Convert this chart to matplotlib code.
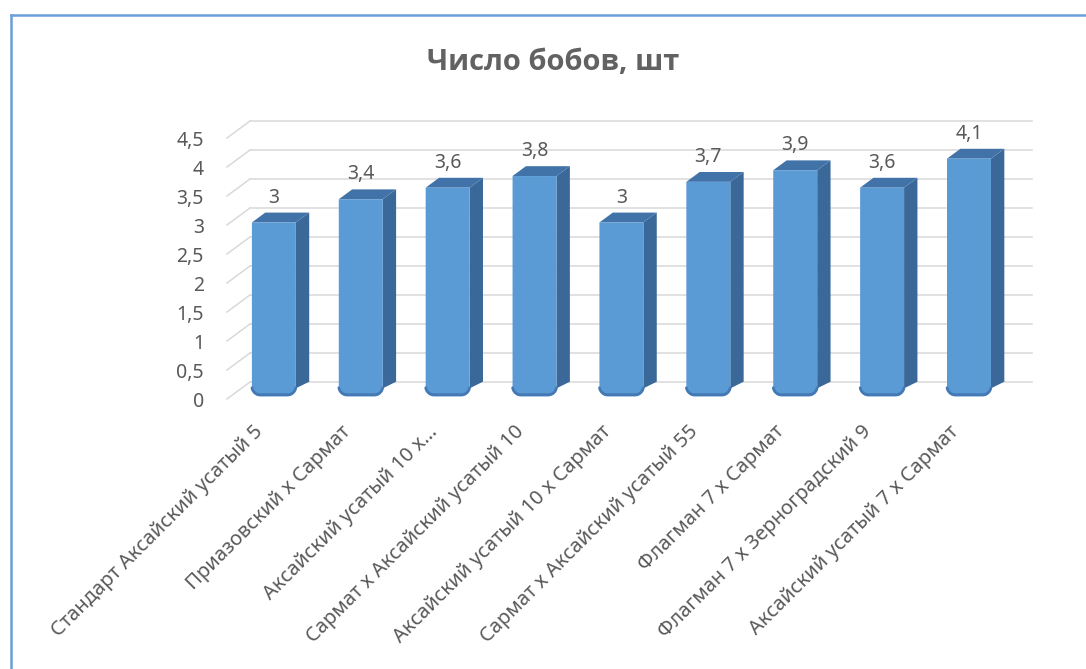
# -*- coding: utf-8 -*-
"""Число бобов по сортам и гибридам: столбчатая диаграмма с псевдо-3D столбцами."""

import matplotlib

matplotlib.use("Agg")
import matplotlib.pyplot as plt
import numpy as np
from matplotlib.lines import Line2D
from matplotlib.patches import Polygon

plt.rcParams["font.family"] = ["Noto Sans", "DejaVu Sans"]

varieties = [
    "Стандарт Аксайский усатый 5",
    "Приазовский х Сармат",
    "Аксайский усатый 10 х…",
    "Сармат х Аксайский усатый 10",
    "Аксайский усатый 10 х Сармат",
    "Сармат х Аксайский усатый 55",
    "Флагман 7 х Сармат",
    "Флагман 7 х Зерноградский 9",
    "Аксайский усатый 7 х Сармат",
]
beans = [3.0, 3.4, 3.6, 3.8, 3.0, 3.7, 3.9, 3.6, 4.1]
y_ticks = [0, 0.5, 1, 1.5, 2, 2.5, 3, 3.5, 4, 4.5]
title = "Число бобов, шт"

TEXT = "#595959"
GRID = "#d9d9d9"
FRONT = "#5B9BD5"
SIDE = "#3A6899"
TOP = "#4172A8"
RIM = "#4479B3"

# oblique projection: depth 0 is the back wall, depth 1 is the front edge
DX, DY = -0.265, -0.293
S_FRONT, S_BACK = 0.85, 0.27
HALF_W = 0.253
RX, RY = 0.095, 0.14


def proj(x, y, s):
    return x + s * DX, y + s * DY


def fmt(v):
    return f"{v:g}".replace(".", ",")


fig = plt.figure(figsize=(10.86, 6.69), dpi=100)
fig.patch.set_facecolor("white")
ax = fig.add_axes([250 / 1086, 1 - 382 / 669, 782 / 1086, 261 / 669])
ax.set_xlim(0, len(varieties))
ax.set_ylim(0, 4.5)
ax.axis("off")

# back wall gridlines and the slanted side lines with value labels
for t in y_ticks:
    ax.plot([0, len(varieties)], [t, t], color=GRID, lw=1.1, zorder=1, clip_on=False)
    fx, fy = proj(0, t, 1)
    ax.plot([0, fx], [t, fy], color=GRID, lw=1.1, zorder=1, clip_on=False)
    ax.annotate(fmt(t), (fx, fy), xytext=(-23, -3), textcoords="offset pixels",
                ha="right", va="center", fontsize=14, color=TEXT, annotation_clip=False)

# bars
ang = np.linspace(0, np.pi / 2, 12)
for i, v in enumerate(beans):
    c = i + 0.5
    xl, xr = c - HALF_W, c + HALF_W

    # front face with rounded bottom corners
    outline = [(xl, v)] + [(xl + RX - RX * np.sin(a), RY - RY * np.cos(a)) for a in ang[::-1]] \
        + [(xr - RX + RX * np.sin(a), RY - RY * np.cos(a)) for a in ang] + [(xr, v)]
    front = [proj(x, y, S_FRONT) for x, y in outline]

    side = [proj(xr, v, S_FRONT), proj(xr, v, S_BACK),
            proj(xr, RY * 0.6, S_BACK), proj(xr, RY, S_FRONT)]
    top = [proj(xl, v, S_FRONT), proj(xr, v, S_FRONT),
           proj(xr, v, S_BACK), proj(xl, v, S_BACK)]

    ax.add_patch(Polygon(side, closed=True, fc=SIDE, ec="none", zorder=3, clip_on=False))
    ax.add_patch(Polygon(top, closed=True, fc=TOP, ec="none", zorder=3, clip_on=False))
    ax.add_patch(Polygon(front, closed=True, fc=FRONT, ec="none", zorder=4, clip_on=False))

    # darker rim along the rounded bottom, kept inside the face
    rim = [proj(x, y + 0.03, S_FRONT) for x, y in outline[2:-2]]
    ax.plot([p[0] for p in rim], [p[1] for p in rim], color=RIM, lw=2,
            solid_capstyle="round", zorder=5, clip_on=False)

    lx, ly = proj(c, v, S_BACK)
    ax.annotate(fmt(v), (c + S_FRONT * DX, ly), xytext=(0, 5), textcoords="offset pixels",
                ha="center", va="bottom", fontsize=14, color=TEXT, zorder=6,
                annotation_clip=False)

    # category labels under the front edge
    fx, fy = proj(c, 0, 1)
    ax.annotate(varieties[i], (fx, fy), xytext=(-10, -30), textcoords="offset pixels",
                ha="right", va="center", rotation=45, rotation_mode="anchor",
                fontsize=14.5, color=TEXT, annotation_clip=False)

fig.text(553 / 1086, 1 - 62 / 669, title, ha="center", va="center",
         fontsize=21, fontweight="bold", color="#626262",
         family=["Open Sans", "DejaVu Sans"])

# chart area frame
fig.add_artist(Line2D([11 / 1086, 1], [1 - 15 / 669] * 2, transform=fig.transFigure,
                      color="#6A9FD8", lw=1.8))
fig.add_artist(Line2D([11 / 1086] * 2, [0, 1 - 15 / 669], transform=fig.transFigure,
                      color="#6A9FD8", lw=1.8))

fig.savefig("out.png", dpi=100)
